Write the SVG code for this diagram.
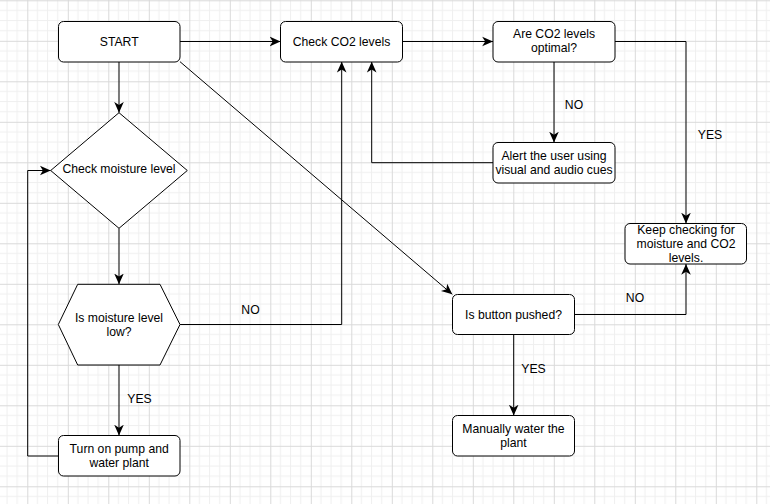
<svg xmlns="http://www.w3.org/2000/svg" width="770" height="504" viewBox="0 0 770 504">
<defs>
<pattern id="grid" patternUnits="userSpaceOnUse" x="27.3" y="0.3" width="40.5" height="40.5">
<path d="M10.125 0V40.5M20.25 0V40.5M30.375 0V40.5M0 10.125H40.5M0 20.25H40.5M0 30.375H40.5" stroke="#efefef" stroke-width="1" fill="none"/>
<path d="M0.5 0V40.5M0 0.5H40.5" stroke="#d9d9d9" stroke-width="1" fill="none"/>
</pattern>
<marker id="arr" markerUnits="userSpaceOnUse" markerWidth="12" markerHeight="12" viewBox="0 0 10 8" refX="9" refY="4" orient="auto">
<path d="M0 0L9 4L0 8L2.5 4Z" fill="#000"/>
</marker>
</defs>
<style>
.box{fill:#fff;stroke:#000;stroke-width:1}
.edge{fill:none;stroke:#000;stroke-width:1;marker-end:url(#arr)}
text{font-family:"Liberation Sans",Arial,Helvetica,sans-serif;font-size:12.2px;fill:#000;text-anchor:middle;dominant-baseline:central}
</style>
<rect x="0" y="0" width="770" height="504" fill="#fff"/>
<rect x="0" y="0" width="770" height="504" fill="url(#grid)"/>

<g id="connectors">
<path class="edge" d="M180 41.5H280.5"/>
<path class="edge" d="M402.5 41.5H493"/>
<path class="edge" d="M554 61.7V142.5"/>
<path class="edge" d="M493 162.7H371.7V61.7"/>
<path class="edge" d="M615 41.5H686V223.5"/>
<path class="edge" d="M180 61.7L452.3 294.3"/>
<path class="edge" d="M574.5 314.5H686V264"/>
<path class="edge" d="M513.7 334.5V415.5"/>
<path class="edge" d="M119 61.7V112.7"/>
<path class="edge" d="M119 228.3V284.3"/>
<path class="edge" d="M119 365V435.5"/>
<path class="edge" d="M58.5 456H27.7V170.5H50.7"/>
<path class="edge" d="M180 324.5H341.7V61.7"/>
<text x="574" y="104.5">NO</text>
<text x="710" y="134.5">YES</text>
<text x="635" y="297.5">NO</text>
<text x="533.5" y="368.5">YES</text>
<text x="139.5" y="398.5">YES</text>
<text x="250.5" y="309.5">NO</text>
</g>

<g id="start">
<rect class="box" x="58.5" y="21.5" width="121.5" height="40.5" rx="5"/>
<text x="119.2" y="41.7">START</text>
</g>
<g id="check-co2">
<rect class="box" x="280.5" y="21.5" width="122" height="40.5" rx="5"/>
<text x="341.5" y="41.7">Check CO2 levels</text>
</g>
<g id="co2-optimal">
<rect class="box" x="493" y="21.5" width="122" height="40.5" rx="5"/>
<text x="554" y="34">Are CO2 levels</text>
<text x="554" y="47.5">optimal?</text>
</g>
<g id="alert">
<rect class="box" x="493" y="142.5" width="122" height="40.5" rx="5"/>
<text x="554" y="156">Alert the user using</text>
<text x="554" y="170">visual and audio cues</text>
</g>
<g id="keep-checking">
<rect class="box" x="625" y="223.5" width="121.5" height="40.5" rx="5"/>
<text x="686" y="229.5">Keep checking for</text>
<text x="686" y="243.5">moisture and CO2</text>
<text x="686" y="258">levels.</text>
</g>
<g id="button">
<rect class="box" x="452.5" y="294.5" width="122" height="40" rx="5"/>
<text x="513.5" y="314.5">Is button pushed?</text>
</g>
<g id="manual">
<rect class="box" x="452.5" y="415.5" width="122" height="40.5" rx="5"/>
<text x="513.5" y="428.8">Manually water the</text>
<text x="513.5" y="443.3">plant</text>
</g>
<g id="check-moisture">
<polygon class="box" points="119,112.7 187.3,170.5 119,228.3 50.7,170.5"/>
<text x="119" y="169">Check moisture level</text>
</g>
<g id="moisture-low">
<polygon class="box" points="77.7,284.3 160,284.3 180,324.5 160,365 77.7,365 58.3,324.5"/>
<text x="119" y="317.5">Is moisture level</text>
<text x="119" y="331.7">low?</text>
</g>
<g id="pump">
<rect class="box" x="58.5" y="435.5" width="121.5" height="40.5" rx="5"/>
<text x="119.2" y="449.3">Turn on pump and</text>
<text x="119.2" y="463.3">water plant</text>
</g>
</svg>
